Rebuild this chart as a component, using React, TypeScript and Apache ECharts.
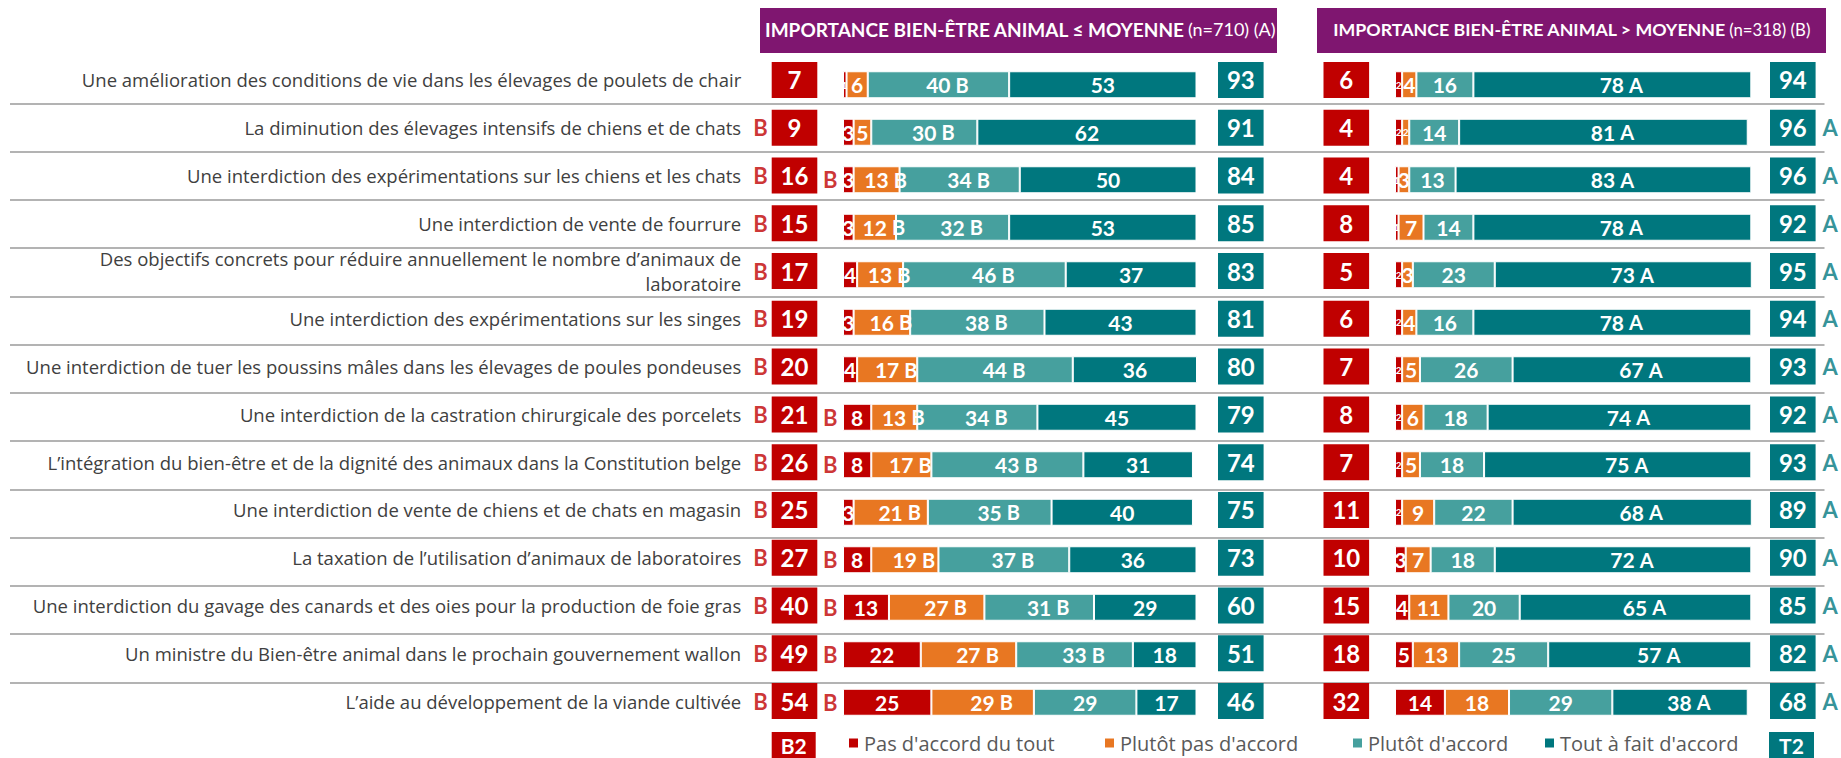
import React, { useEffect, useRef } from "react";
import * as echarts from "echarts";

const categories = [
  "Une amélioration des conditions de vie dans les élevages de poulets de chair",
  "La diminution des élevages intensifs de chiens et de chats",
  "Une interdiction des expérimentations sur les chiens et les chats",
  "Une interdiction de vente de fourrure",
  "Des objectifs concrets pour réduire annuellement le nombre d’animaux de\nlaboratoire",
  "Une interdiction des expérimentations sur les singes",
  "Une interdiction de tuer les poussins mâles dans les élevages de poules pondeuses",
  "Une interdiction de la castration chirurgicale des porcelets",
  "L’intégration du bien-être et de la dignité des animaux dans la Constitution belge",
  "Une interdiction de vente de chiens et de chats en magasin",
  "La taxation de l’utilisation d’animaux de laboratoires",
  "Une interdiction du gavage des canards et des oies pour la production de foie gras",
  "Un ministre du Bien-être animal dans le prochain gouvernement wallon",
  "L’aide au développement de la viande cultivée",
];

const seriesNames = ["Pas d'accord du tout", "Plutôt pas d'accord", "Plutôt d'accord", "Tout à fait d'accord"];

const headerLeft = "IMPORTANCE BIEN-ÊTRE ANIMAL ≤ MOYENNE";
const headerLeftN = "(n=710) (A)";
const headerRight = "IMPORTANCE BIEN-ÊTRE ANIMAL > MOYENNE";
const headerRightN = "(n=318) (B)";

// Left group (A)
const leftB2 = [7, 9, 16, 15, 17, 19, 20, 21, 26, 25, 27, 40, 49, 54];
const leftT2 = [93, 91, 84, 85, 83, 81, 80, 79, 74, 75, 73, 60, 51, 46];
const leftPas = [1, 3, 3, 3, 4, 3, 4, 8, 8, 3, 8, 13, 22, 25];
const leftPlutotPas = [6, 5, 13, 12, 13, 16, 17, 13, 17, 21, 19, 27, 27, 29];
const leftPlutot = [40, 30, 34, 32, 46, 38, 44, 34, 43, 35, 37, 31, 33, 29];
const leftTout = [53, 62, 50, 53, 37, 43, 36, 45, 31, 40, 36, 29, 18, 17];

// Right group (B)
const rightB2 = [6, 4, 4, 8, 5, 6, 7, 8, 7, 11, 10, 15, 18, 32];
const rightT2 = [94, 96, 96, 92, 95, 94, 93, 92, 93, 89, 90, 85, 82, 68];
const rightPas = [2, 2, 1, 1, 2, 2, 2, 2, 2, 2, 3, 4, 5, 14];
const rightPlutotPas = [4, 2, 3, 7, 3, 4, 5, 6, 5, 9, 7, 11, 13, 18];
const rightPlutot = [16, 14, 13, 14, 23, 16, 26, 18, 18, 22, 18, 20, 25, 29];
const rightTout = [78, 81, 83, 78, 73, 78, 67, 74, 75, 68, 72, 65, 57, 38];

// Significance flags
const sigLeftB2 = ["", "B", "B", "B", "B", "B", "B", "B", "B", "B", "B", "B", "B", "B"];
const sigLeftPasBar = ["", "", "B", "", "", "", "", "B", "B", "", "B", "B", "B", "B"];
const sigLeftPlutotPas = ["", "", "B", "B", "B", "B", "B", "B", "B", "B", "B", "B", "B", "B"];
const sigLeftPlutot = ["B", "B", "B", "B", "B", "B", "B", "B", "B", "B", "B", "B", "B", ""];
const sigNone = ["", "", "", "", "", "", "", "", "", "", "", "", "", ""];
const sigRightTout = ["A", "A", "A", "A", "A", "A", "A", "A", "A", "A", "A", "A", "A", "A"];
const sigRightT2 = ["", "A", "A", "A", "A", "A", "A", "A", "A", "A", "A", "A", "A", "A"];

const FONT = "Lato, 'Open Sans', sans-serif";
const TFONT = "'Open Sans', Lato, sans-serif";
const C_RED = "#C00000";
const C_ORANGE = "#E87722";
const C_LTEAL = "#46A09E";
const C_DTEAL = "#00777E";
const PURPLE = "#7F1670";
const GRAY = "#595959";

const BOX_TOP = 56;
const BOX_H = 669;
const BAR_TOP = 61;
const BAR_H = 665;
const BOX_W = 45.6;

function boxGrid(left: number, width: number) {
  return { left, width, top: BOX_TOP, height: BOX_H };
}
function barGrid(left: number, width: number) {
  return { left, width, top: BAR_TOP, height: BAR_H };
}

function hiddenX(gridIndex: number, min: number, max: number) {
  return { type: "value", gridIndex, min, max, show: false };
}
function hiddenCatY(gridIndex: number) {
  return { type: "category", gridIndex, data: categories, inverse: true, show: false };
}

function barSeries(name: string, vals: number[], sigs: string[], color: string, gi: number, stack: string) {
  return {
    type: "bar",
    name,
    stack,
    xAxisIndex: gi,
    yAxisIndex: gi,
    barWidth: 27,
    itemStyle: { color, borderColor: "#ffffff", borderWidth: 1 },
    label: {
      show: true,
      position: "inside",
      color: "#ffffff",
      fontFamily: FONT,
      fontSize: 21,
      fontWeight: "bold",
      formatter: (p: any) => (sigs[p.dataIndex] ? `${p.value} {f|${sigs[p.dataIndex]}}` : `${p.value}`),
      rich: { f: { fontSize: 20, fontWeight: "bold", color: "#ffffff", fontFamily: FONT } },
    },
    data: vals.map((v, i) => {
      if (sigs[i]) return { value: v, label: { offset: [9, 0] } };
      if (v < 3) return { value: v, label: { fontSize: 10 } };
      return v;
    }),
  };
}

function boxSeries(vals: number[], color: string, gi: number) {
  return {
    type: "scatter",
    xAxisIndex: gi,
    yAxisIndex: gi,
    symbol: "rect",
    symbolSize: [BOX_W, 36],
    itemStyle: { color, opacity: 1 },
    label: {
      show: true,
      position: "inside",
      formatter: (p: any) => String(p.value[2]),
      color: "#ffffff",
      fontSize: 24,
      fontWeight: "bold",
      fontFamily: FONT,
    },
    data: vals.map((v, i) => [0.5, i, v]),
    z: 3,
  };
}

function flagSeries(sigs: string[], color: string, gi: number, x: number, pos: string, dist: number, size: number[]) {
  const data: number[][] = [];
  sigs.forEach((s, i) => {
    if (s) data.push([x, i]);
  });
  return {
    type: "scatter",
    xAxisIndex: gi,
    yAxisIndex: gi,
    symbol: "rect",
    symbolSize: size,
    itemStyle: { color: "rgba(0,0,0,0)" },
    label: {
      show: true,
      position: pos,
      distance: dist,
      formatter: (p: any) => sigs[p.value[1]],
      color,
      fontSize: 22,
      fontWeight: "bold",
      fontFamily: FONT,
    },
    data,
    z: 4,
  };
}

function legendItem(name: string, left: number) {
  return {
    data: [name],
    left,
    top: 732,
    padding: 0,
    itemWidth: 11,
    itemHeight: 11,
    icon: "rect",
    textStyle: { fontSize: 20, color: GRAY, fontFamily: TFONT, lineHeight: 22 },
    selectedMode: false,
  };
}

export default function App() {
  const ref = useRef<HTMLDivElement>(null);
  useEffect(() => {
    document.body.style.margin = "0";
    if (!ref.current) return;
    const chart = echarts.init(ref.current, undefined, { renderer: "svg" });

    const headerRichL = {
      b: { fontSize: 19, fontWeight: "bold", fill: "#ffffff", fontFamily: FONT },
      s: { fontSize: 18, fill: "#ffffff", fontFamily: FONT },
    };
    const headerRichR = {
      b: { fontSize: 17.8, fontWeight: "bold", fill: "#ffffff", fontFamily: FONT },
      s: { fontSize: 16.8, fill: "#ffffff", fontFamily: FONT },
    };

    const option: any = {
      animation: false,
      backgroundColor: "#ffffff",
      grid: [
        boxGrid(771.7, BOX_W), // 0 left B2
        barGrid(843, 353.5), // 1 left bars
        boxGrid(1218, BOX_W), // 2 left T2
        boxGrid(1323.5, BOX_W), // 3 right B2
        barGrid(1395, 356.3), // 4 right bars
        boxGrid(1770, BOX_W), // 5 right T2
        { left: 10, width: 1814.5, top: 103.3, height: 579 }, // 6 separators
      ],
      xAxis: [
        hiddenX(0, 0, 1),
        hiddenX(1, 0, 100),
        hiddenX(2, 0, 1),
        hiddenX(3, 0, 1),
        hiddenX(4, 0, 100),
        hiddenX(5, 0, 1),
        hiddenX(6, 0, 1),
      ],
      yAxis: [
        {
          type: "category",
          gridIndex: 0,
          data: categories,
          inverse: true,
          axisLine: { show: false },
          axisTick: { show: false },
          splitLine: { show: false },
          axisLabel: {
            margin: 30.5,
            fontSize: 18.5,
            lineHeight: 25.5,
            color: "#404040",
            fontFamily: TFONT,
            align: "right",
          },
        },
        hiddenCatY(1),
        hiddenCatY(2),
        hiddenCatY(3),
        hiddenCatY(4),
        hiddenCatY(5),
        {
          type: "value",
          gridIndex: 6,
          min: 0,
          max: 12,
          interval: 1,
          axisLine: { show: false },
          axisTick: { show: false },
          axisLabel: { show: false },
          splitLine: { show: true, lineStyle: { color: "#9a9a9a", width: 1.5 } },
        },
      ],
      legend: [
        legendItem(seriesNames[0], 847),
        legendItem(seriesNames[1], 1103),
        legendItem(seriesNames[2], 1351),
        legendItem(seriesNames[3], 1543),
      ],
      graphic: [
        { type: "rect", shape: { x: 760, y: 8, width: 517, height: 45 }, style: { fill: PURPLE } },
        {
          type: "text",
          x: 1020,
          y: 29,
          style: {
            text: `{b|${headerLeft}} {s|${headerLeftN}}`,
            align: "center",
            verticalAlign: "middle",
            rich: headerRichL,
          },
        },
        { type: "rect", shape: { x: 1317, y: 8, width: 509, height: 45 }, style: { fill: PURPLE } },
        {
          type: "text",
          x: 1571.5,
          y: 29,
          style: {
            text: `{b|${headerRight}} {s|${headerRightN}}`,
            align: "center",
            verticalAlign: "middle",
            rich: headerRichR,
          },
        },
        { type: "rect", shape: { x: 771.7, y: 732, width: 44, height: 26 }, style: { fill: C_RED } },
        {
          type: "text",
          x: 793.7,
          y: 745,
          style: { text: "B2", fill: "#ffffff", fontSize: 21, fontWeight: "bold", fontFamily: FONT, align: "center", verticalAlign: "middle" },
        },
        { type: "rect", shape: { x: 1769, y: 732, width: 45, height: 26 }, style: { fill: C_DTEAL } },
        {
          type: "text",
          x: 1791.5,
          y: 745,
          style: { text: "T2", fill: "#ffffff", fontSize: 21, fontWeight: "bold", fontFamily: FONT, align: "center", verticalAlign: "middle" },
        },
      ],
      series: [
        boxSeries(leftB2, C_RED, 0),
        flagSeries(sigLeftB2, C_RED, 0, 0.5, "left", 4, [BOX_W, 36]),
        barSeries(seriesNames[0], leftPas, sigNone, C_RED, 1, "L"),
        barSeries(seriesNames[1], leftPlutotPas, sigLeftPlutotPas, C_ORANGE, 1, "L"),
        barSeries(seriesNames[2], leftPlutot, sigLeftPlutot, C_LTEAL, 1, "L"),
        barSeries(seriesNames[3], leftTout, sigNone, C_DTEAL, 1, "L"),
        flagSeries(sigLeftPasBar, C_RED, 1, 0, "left", 5, [1, 27]),
        boxSeries(leftT2, C_DTEAL, 2),
        boxSeries(rightB2, C_RED, 3),
        barSeries(seriesNames[0], rightPas, sigNone, C_RED, 4, "R"),
        barSeries(seriesNames[1], rightPlutotPas, sigNone, C_ORANGE, 4, "R"),
        barSeries(seriesNames[2], rightPlutot, sigNone, C_LTEAL, 4, "R"),
        barSeries(seriesNames[3], rightTout, sigRightTout, C_DTEAL, 4, "R"),
        boxSeries(rightT2, C_DTEAL, 5),
        flagSeries(sigRightT2, C_DTEAL, 5, 0.5, "right", 7, [BOX_W, 36]),
      ],
    };

    chart.setOption(option);
    return () => chart.dispose();
  }, []);

  return <div ref={ref} style={{ width: 1841, height: 758 }} />;
}
